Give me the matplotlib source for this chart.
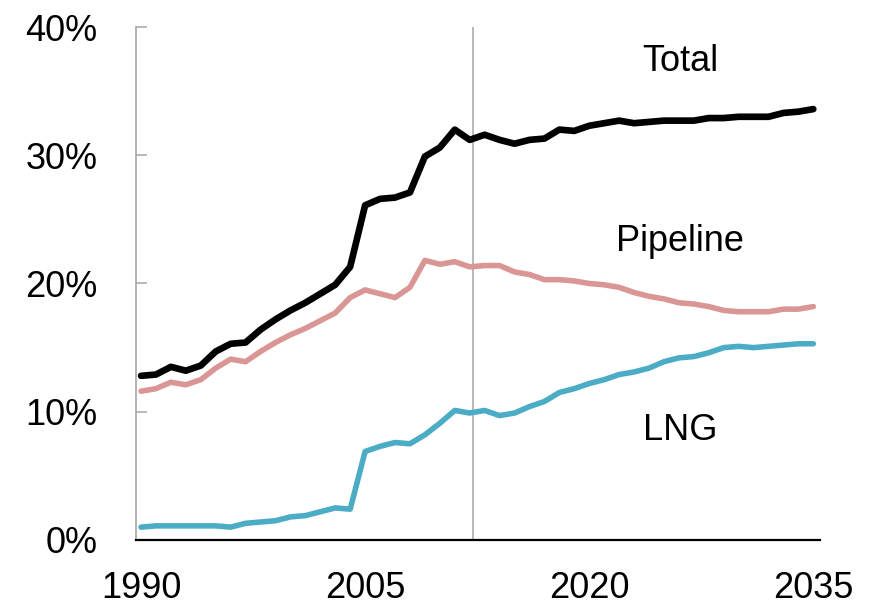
import matplotlib
matplotlib.use("Agg")
import matplotlib.pyplot as plt
from matplotlib.ticker import FuncFormatter

plt.rcParams['font.family'] = ['Liberation Sans', 'DejaVu Sans']

# Annual shares, %
years = list(range(1990, 2036))
total = [12.8, 12.9, 13.5, 13.2, 13.6, 14.7, 15.3, 15.4, 16.4, 17.2,
         17.9, 18.5, 19.2, 19.9, 21.3, 26.1, 26.6, 26.7, 27.1, 29.9,
         30.6, 32.0, 31.2, 31.6, 31.2, 30.9, 31.2, 31.3, 32.0, 31.9,
         32.3, 32.5, 32.7, 32.5, 32.6, 32.7, 32.7, 32.7, 32.9, 32.9,
         33.0, 33.0, 33.0, 33.3, 33.4, 33.6]
pipeline = [11.6, 11.8, 12.3, 12.1, 12.5, 13.4, 14.1, 13.9, 14.7, 15.4,
            16.0, 16.5, 17.1, 17.7, 18.9, 19.5, 19.2, 18.9, 19.7, 21.8,
            21.5, 21.7, 21.3, 21.4, 21.4, 20.9, 20.7, 20.3, 20.3, 20.2,
            20.0, 19.9, 19.7, 19.3, 19.0, 18.8, 18.5, 18.4, 18.2, 17.9,
            17.8, 17.8, 17.8, 18.0, 18.0, 18.2]
lng = [1.0, 1.1, 1.1, 1.1, 1.1, 1.1, 1.0, 1.3, 1.4, 1.5,
       1.8, 1.9, 2.2, 2.5, 2.4, 6.9, 7.3, 7.6, 7.5, 8.2,
       9.1, 10.1, 9.9, 10.1, 9.7, 9.9, 10.4, 10.8, 11.5, 11.8,
       12.2, 12.5, 12.9, 13.1, 13.4, 13.9, 14.2, 14.3, 14.6, 15.0,
       15.1, 15.0, 15.1, 15.2, 15.3, 15.3]

projection_start = 2012.2
xticks = [1990, 2005, 2020, 2035]
yticks = [0, 10, 20, 30, 40]

fig = plt.figure(figsize=(8.78, 6.10), dpi=100)
ax = fig.add_axes([0.155, 0.1148, 0.779, 0.8409])

ax.axvline(projection_start, color='#a6a6a6', lw=1.1, zorder=1)

line_kw = dict(solid_joinstyle='round', solid_capstyle='round')
ax.plot(years, pipeline, color='#d99694', lw=4.0, zorder=3, **line_kw)
ax.plot(years, lng, color='#4bacc6', lw=4.0, zorder=3, **line_kw)
ax.plot(years, total, color='black', lw=4.8, zorder=4, **line_kw)

ax.text(2026.1, 37.3, "Total", fontsize=26, ha='center', va='center')
ax.text(2026.1, 23.3, "Pipeline", fontsize=26, ha='center', va='center')
ax.text(2026.1, 8.5, "LNG", fontsize=26, ha='center', va='center')

ax.set_xlim(1989.67, 2035.45)
ax.set_ylim(0, 40)
ax.set_xticks(xticks)
ax.set_yticks(yticks)
ax.yaxis.set_major_formatter(FuncFormatter(lambda v, p: f"{v:.0f}%"))

for s in ['top', 'right']:
    ax.spines[s].set_visible(False)
ax.spines['left'].set_color('#a6a6a6')
ax.spines['left'].set_linewidth(1.2)
ax.spines['bottom'].set_color('black')
ax.spines['bottom'].set_linewidth(1.6)

ax.tick_params(axis='y', direction='in', length=8, width=1.1, color='#a6a6a6',
               labelsize=26, pad=28)
ax.tick_params(axis='x', length=0, labelsize=26, pad=22)

fig.savefig("out.png", dpi=100)
